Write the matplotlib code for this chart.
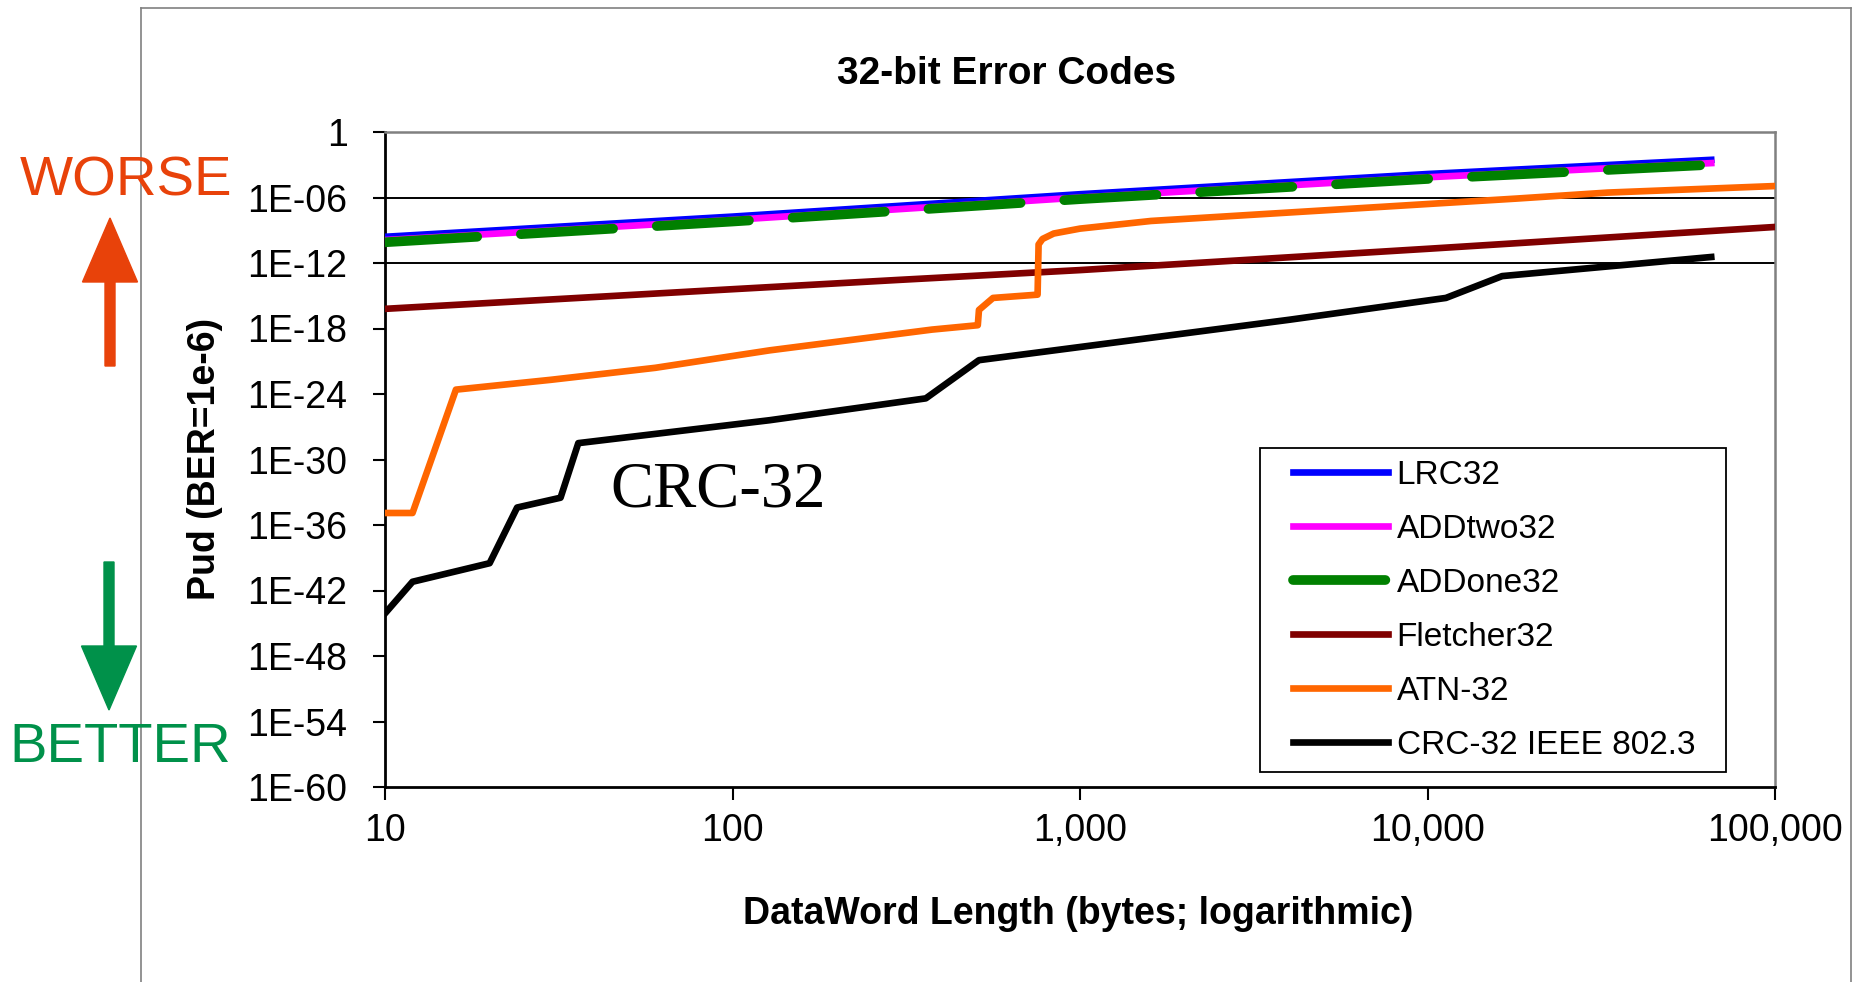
import matplotlib
matplotlib.use('Agg')
import matplotlib.pyplot as plt
import numpy as np
from matplotlib.patches import FancyArrow, Rectangle
from matplotlib.lines import Line2D

plt.rcParams['font.family'] = ['Liberation Sans', 'DejaVu Sans']

# dataword length (bytes) and log10(Pud)
lrc_len = [10, 100, 1000, 10000, 65536]
lrc_exp = [-9.6, -7.75, -5.7, -3.85, -2.55]

addtwo_len = [10, 100, 1000, 10000, 65536]
addtwo_exp = [-9.9, -8.05, -6.0, -4.15, -2.85]

addone_len = [10, 100, 1000, 10000, 65536]
addone_exp = [-10.1, -8.2, -6.15, -4.3, -3.0]

fletcher_len = [10, 100, 300, 1000, 10000, 100000]
fletcher_exp = [-16.2, -14.4, -13.55, -12.65, -10.7, -8.7]

atn_len = [10, 12, 16, 30, 60, 128, 375, 508, 512, 562, 755, 760, 780, 840,
           1000, 1600, 18000, 33000, 100000]
atn_exp = [-34.9, -34.9, -23.6, -22.7, -21.6, -20.0, -18.1, -17.7, -16.3, -15.2,
           -14.9, -10.3, -9.8, -9.3, -8.85, -8.15, -6.1, -5.55, -4.95]

crc_len = [10, 12, 20, 24, 32, 36, 128, 360, 512, 4000, 11300, 16400, 65536]
crc_exp = [-44.1, -41.2, -39.5, -34.4, -33.5, -28.5, -26.4, -24.4, -20.9, -17.2,
           -15.2, -13.2, -11.45]

ytick_vals = [1e0, 1e-6, 1e-12, 1e-18, 1e-24, 1e-30, 1e-36, 1e-42, 1e-48, 1e-54, 1e-60]
ytick_labels = ['1', '1E-06', '1E-12', '1E-18', '1E-24', '1E-30', '1E-36',
                '1E-42', '1E-48', '1E-54', '1E-60']
xtick_vals = [10, 100, 1000, 10000, 100000]
xtick_labels = ['10', '100', '1,000', '10,000', '100,000']

fig = plt.figure(figsize=(18.68, 9.82), dpi=100)
ax = fig.add_axes([385/1868, 1-787/982, 1390/1868, 655/982])

ax.set_xscale('log')
ax.set_yscale('log')

for g in [1e-6, 1e-12]:
    ax.axhline(g, color='black', lw=1.4, zorder=1)

ax.plot(lrc_len, 10.0**np.array(lrc_exp), color='#0000FF', lw=4.8, label='LRC32', zorder=3)
ax.plot(addtwo_len, 10.0**np.array(addtwo_exp), color='#FF00FF', lw=4.8, label='ADDtwo32', zorder=3)
ax.plot(addone_len, 10.0**np.array(addone_exp), color='#008000', lw=7, label='ADDone32',
        dashes=(9.5, 4.5), dash_capstyle='round', zorder=3)
ax.plot(fletcher_len, 10.0**np.array(fletcher_exp), color='#800000', lw=4.8, label='Fletcher32', zorder=3)
ax.plot(atn_len, 10.0**np.array(atn_exp), color='#FF6600', lw=4.8, label='ATN-32', zorder=3)
ax.plot(crc_len, 10.0**np.array(crc_exp), color='black', lw=4.8, label='CRC-32 IEEE 802.3', zorder=3)

ax.set_xlim(10, 100000)
ax.set_ylim(1e-60, 1)
ax.minorticks_off()
ax.set_xticks(xtick_vals)
ax.set_xticklabels(xtick_labels)
ax.set_yticks(ytick_vals)
ax.set_yticklabels(ytick_labels)
ax.tick_params(axis='both', direction='out', length=9, width=1.5, labelsize=27, colors='black')
ax.tick_params(axis='y', pad=18)
ax.tick_params(axis='x', pad=10)

for s in ['left', 'bottom']:
    ax.spines[s].set_color('black')
    ax.spines[s].set_linewidth(2)
for s in ['top', 'right']:
    ax.spines[s].set_color('#808080')
    ax.spines[s].set_linewidth(1.8)

# legend drawn without its own frame, box added separately
leg = ax.legend(loc='upper left', bbox_to_anchor=(0.6532, 0.499), borderaxespad=0,
                borderpad=0, fontsize=24, handlelength=2.86, handletextpad=0.25,
                labelspacing=0.69, frameon=False)
leg.set_zorder(6)
ax.add_patch(Rectangle((0.6295, 0.0229), 0.3352, 0.4947, transform=ax.transAxes,
                       facecolor='white', edgecolor='black', lw=1.3, zorder=5))

fig.text(1007/1868, 1-74/982, '32-bit Error Codes', ha='center', va='center',
         fontsize=28, fontweight='bold')
fig.text(1078/1868, 1-914/982, 'DataWord Length (bytes; logarithmic)', ha='center',
         va='center', fontsize=27, fontweight='bold')
fig.text(205/1868, 1-459/982, 'Pud (BER=1e-6)', ha='center', va='center',
         rotation=90, fontsize=27, fontweight='bold')

fig.text(610/1868, 1-491/982, 'CRC-32', ha='left', va='center', fontsize=46.5,
         family=['Liberation Serif', 'DejaVu Serif'])

worse_col = '#E8420A'
better_col = '#00914A'
fig.text(126/1868, 1-182/982, 'WORSE', ha='center', va='center', fontsize=40.5, color=worse_col)
fig.text(120/1868, 1-748/982, 'BETTER', ha='center', va='center', fontsize=40.5, color=better_col)

up = FancyArrow(1.10, (982-366)/100, 0, 1.48, width=0.10, head_width=0.55,
                head_length=0.64, length_includes_head=True, color=worse_col,
                transform=fig.dpi_scale_trans)
down = FancyArrow(1.09, (982-562)/100, 0, -1.48, width=0.10, head_width=0.55,
                  head_length=0.64, length_includes_head=True, color=better_col,
                  transform=fig.dpi_scale_trans)
fig.add_artist(up)
fig.add_artist(down)

# outer chart frame
frame_col = '#808080'
fig.add_artist(Line2D([141/1868, 141/1868], [0, 1-8/982], color=frame_col, lw=1.2))
fig.add_artist(Line2D([141/1868, 1851/1868], [1-8/982, 1-8/982], color=frame_col, lw=1.2))
fig.add_artist(Line2D([1851/1868, 1851/1868], [0, 1-8/982], color=frame_col, lw=1.2))

fig.savefig('out.png', dpi=100)
